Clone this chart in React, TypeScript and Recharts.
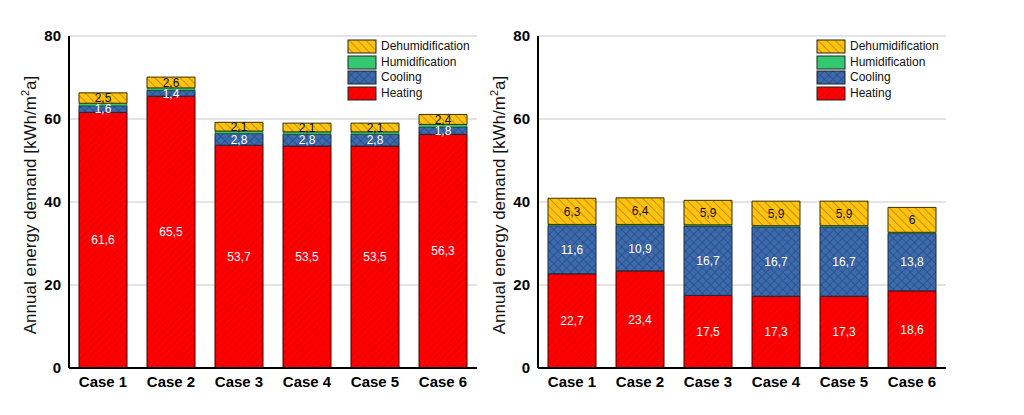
import { BarChart, Bar, XAxis, YAxis, CartesianGrid, Legend, LabelList } from 'recharts';

const cases = ['Case 1', 'Case 2', 'Case 3', 'Case 4', 'Case 5', 'Case 6'];
const yTicks = [0, 20, 40, 60, 80];

// left panel
const heatingA = [61.6, 65.5, 53.7, 53.5, 53.5, 56.3];
const coolingA = [1.6, 1.4, 2.8, 2.8, 2.8, 1.8];
const humidA = [0.6, 0.6, 0.6, 0.6, 0.6, 0.6];
const dehumA = [2.5, 2.6, 2.1, 2.1, 2.1, 2.4];

// right panel
const heatingB = [22.7, 23.4, 17.5, 17.3, 17.3, 18.6];
const coolingB = [11.6, 10.9, 16.7, 16.7, 16.7, 13.8];
const humidB = [0.3, 0.3, 0.3, 0.3, 0.3, 0.3];
const dehumB = [6.3, 6.4, 5.9, 5.9, 5.9, 6];

const font = 'Arial, "Liberation Sans", sans-serif';
const fmt = (v: any) => String(v).replace('.', ',');

const legendItems = [
  { name: 'Dehumidification', fill: 'url(#patDehum)' },
  { name: 'Humidification', fill: '#35c872' },
  { name: 'Cooling', fill: 'url(#patCool)' },
  { name: 'Heating', fill: 'url(#patHeat)' },
];

function LegendBox() {
  return (
    <div style={{ fontFamily: font, fontSize: 12, color: '#111', lineHeight: '15.5px' }}>
      {legendItems.map((it) => (
        <div key={it.name} style={{ display: 'flex', alignItems: 'center', height: 15.5 }}>
          <svg width={30} height={15} style={{ marginRight: 4 }}>
            <rect x={1} y={1} width={28} height={13} fill={it.fill} stroke="#222" strokeWidth={1} />
          </svg>
          <span>{it.name}</span>
        </div>
      ))}
    </div>
  );
}

function Patterns() {
  return (
    <defs>
      <pattern id="patHeat" patternUnits="userSpaceOnUse" width={5} height={5} patternTransform="rotate(45)">
        <rect width={5} height={5} fill="#ff0000" />
        <line x1={0} y1={0} x2={0} y2={5} stroke="#c40000" strokeWidth={1} />
      </pattern>
      <pattern id="patCool" patternUnits="userSpaceOnUse" width={6} height={6} patternTransform="rotate(45)">
        <rect width={6} height={6} fill="#3c6aac" />
        <line x1={0} y1={0} x2={0} y2={6} stroke="#22457c" strokeWidth={1.2} />
        <line x1={0} y1={0} x2={6} y2={0} stroke="#22457c" strokeWidth={1.2} />
      </pattern>
      <pattern id="patDehum" patternUnits="userSpaceOnUse" width={6} height={6} patternTransform="rotate(-45)">
        <rect width={6} height={6} fill="#ffc20e" />
        <line x1={0} y1={0} x2={0} y2={6} stroke="#8a6400" strokeWidth={1} />
      </pattern>
    </defs>
  );
}

function Panel({ heating, cooling, humid, dehum }: { heating: number[]; cooling: number[]; humid: number[]; dehum: number[] }) {
  const data = cases.map((name, i) => ({
    name,
    heating: heating[i],
    cooling: cooling[i],
    humid: humid[i],
    dehum: dehum[i],
  }));
  const tick = { fill: '#000', fontSize: 15, fontWeight: 'bold', fontFamily: font };
  const lbl = { fontSize: 12, fontFamily: font };
  return (
    <BarChart width={512} height={415} data={data} barSize={48}
      margin={{ top: 36, right: 35, bottom: 17, left: 39 }}>
      <Patterns />
      <CartesianGrid vertical={false} stroke="#c8c8c8" />
      <XAxis dataKey="name" tick={tick} tickLine={false} axisLine={{ stroke: '#000', strokeWidth: 2 }} />
      <XAxis xAxisId="top" dataKey="name" orientation="top" height={0} tick={false} tickLine={false}
        axisLine={{ stroke: '#000', strokeWidth: 2 }} />
      <YAxis domain={[0, 80]} ticks={yTicks} width={30} tick={tick} tickLine={false}
        axisLine={{ stroke: '#000', strokeWidth: 2 }} />
      <YAxis yAxisId="right" orientation="right" width={0} domain={[0, 80]} tick={false} tickLine={false}
        axisLine={{ stroke: '#000', strokeWidth: 2 }} />
      <text x={32} y={205} transform="rotate(-90 32 205)" textAnchor="middle" dominantBaseline="middle"
        fontFamily={font} fontSize={17} fill="#111">
        Annual energy demand [kWh/m<tspan fontSize={11} dy={-6}>2</tspan><tspan dy={6}>a]</tspan>
      </text>
      <Legend layout="horizontal" verticalAlign="middle" align="center" content={() => <LegendBox />}
        wrapperStyle={{ left: 347, top: 39, width: 150, height: 64 }} />
      <Bar dataKey="heating" stackId="a" fill="url(#patHeat)" stroke="#3a0000" strokeWidth={1} isAnimationActive={false}>
        <LabelList dataKey="heating" position="center" fill="#fff" formatter={fmt} style={lbl} />
      </Bar>
      <Bar dataKey="cooling" stackId="a" fill="url(#patCool)" stroke="#1a2a40" strokeWidth={1} isAnimationActive={false}>
        <LabelList dataKey="cooling" position="center" fill="#fff" formatter={fmt} style={lbl} />
      </Bar>
      <Bar dataKey="humid" stackId="a" fill="#35c872" stroke="#1a4a2a" strokeWidth={0.5} isAnimationActive={false} />
      <Bar dataKey="dehum" stackId="a" fill="url(#patDehum)" stroke="#3a3000" strokeWidth={1} isAnimationActive={false}>
        <LabelList dataKey="dehum" position="center" fill="#111" formatter={fmt} style={lbl} />
      </Bar>
    </BarChart>
  );
}

export default function App() {
  return (
    <div style={{ position: 'absolute', left: 0, top: 0, width: 1024, height: 415, background: '#fff', overflow: 'hidden' }}>
      <div style={{ position: 'absolute', left: 0, top: 0 }}>
        <Panel heating={heatingA} cooling={coolingA} humid={humidA} dehum={dehumA} />
      </div>
      <div style={{ position: 'absolute', left: 469, top: 0 }}>
        <Panel heating={heatingB} cooling={coolingB} humid={humidB} dehum={dehumB} />
      </div>
    </div>
  );
}
